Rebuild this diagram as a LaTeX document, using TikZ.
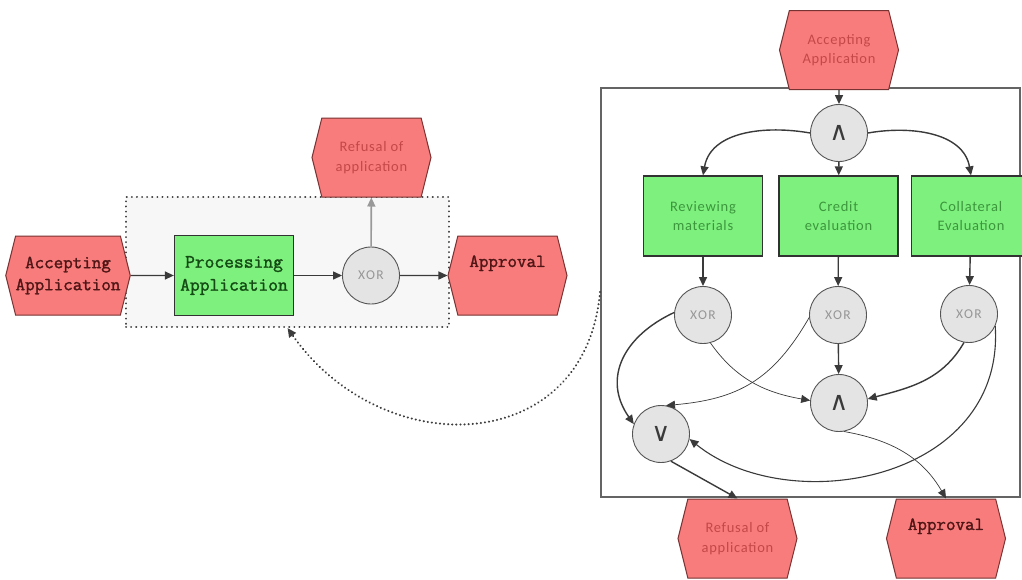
\documentclass[tikz,border=0pt]{standalone}
\usepackage{fontspec}
\setmainfont{Carlito}
\newfontfamily\codefont{Latin Modern Mono}[FakeBold=1.6]
\newfontfamily\labelfont{Carlito}[LetterSpace=5]
\newfontfamily\gatefont{Carlito}[LetterSpace=10]
\newfontfamily\symfont{DejaVu Sans}
\usetikzlibrary{arrows.meta,shapes.symbols}

\definecolor{evfill}{RGB}{248,124,124}
\definecolor{evline}{RGB}{120,50,50}
\definecolor{evtext}{RGB}{80,22,22}
\definecolor{evsoft}{RGB}{196,72,72}
\definecolor{fnfill}{RGB}{126,240,126}
\definecolor{fnline}{RGB}{50,50,50}
\definecolor{fntext}{RGB}{20,75,20}
\definecolor{fnsoft}{RGB}{60,150,60}
\definecolor{gatefill}{RGB}{228,228,228}
\definecolor{gateline}{RGB}{85,85,85}
\definecolor{gatetext}{RGB}{150,150,150}
\definecolor{flowc}{RGB}{58,58,58}
\definecolor{scopefill}{RGB}{247,247,247}
\definecolor{scopeline}{RGB}{60,60,60}
\definecolor{framec}{RGB}{100,100,100}

\tikzset{
  x=1pt, y=-1pt,
  event/.style={shape=signal, signal to=east and west, signal pointer angle=152,
    fill=evfill, draw=evline, line width=1pt, minimum width=119pt,
    minimum height=79pt, inner sep=0pt, align=center},
  evbig/.style={event, text=evtext, font=\codefont\fontsize{18.5}{22}\selectfont},
  evsmall/.style={event, text=evsoft, font=\labelfont\fontsize{14.5}{19.5}\selectfont},
  func/.style={rectangle, fill=fnfill, draw=fnline, line width=1.3pt,
    minimum width=119pt, minimum height=80pt, inner sep=0pt, align=center},
  fnbig/.style={func, text=fntext, font=\codefont\fontsize{19}{23}\selectfont},
  fnsmall/.style={func, text=fnsoft, font=\labelfont\fontsize{14.5}{19}\selectfont},
  gate/.style={circle, fill=gatefill, draw=gateline, line width=0.9pt,
    minimum size=57pt, inner sep=0pt},
  xorgate/.style={gate, text=gatetext, font=\gatefont\fontsize{13.5}{14}\selectfont},
  opgate/.style={gate, text=flowc, font=\symfont\fontsize{26}{26}\selectfont},
  flow/.style={draw=flowc, line width=1.4pt, -{Triangle[length=9pt,width=8pt]}},
  thinflow/.style={flow, line width=0.7pt},
  loopflow/.style={draw=scopeline, line width=2.2pt, line cap=round,
    dash pattern=on 0.1pt off 4pt, -{Triangle[length=9pt,width=8pt]}},
}

\begin{document}
\begin{tikzpicture}
\clip (0,0) rectangle (1022,579);
\fill[white] (0,0) rectangle (1022,579);

% ---------- overview process ----------
\node[fill=scopefill, draw=scopeline, line width=2pt, line cap=round,
      dash pattern=on 0.1pt off 5pt,
      minimum width=323pt, minimum height=130pt, inner sep=0pt] (scope) at (287.5,262) {};

\node[evbig] (accL) at (68,275.5) {Accepting\\Application};
\node[fnbig] (procL) at (234,275.5) {Processing\\Application};
\node[xorgate] (xorL) at (371,275.5) {XOR};
\node[evbig] (apprL) at (507.5,275.5) {Approval\\\strut};
\node[evsmall] (refL) at (371.5,157.5) {Refusal of\\application};

\draw[flow] (accL) -- (procL);
\draw[flow] (procL) -- (xorL);
\draw[flow] (xorL) -- (apprL);
\draw[flow, draw=gray!80, line width=1.6pt] (xorL) -- (refL);

% ---------- detailed process ----------
\node[draw=framec, line width=1.5pt, minimum width=419pt, minimum height=409pt,
      inner sep=0pt] (frame) at (810.5,292.5) {};

\node[evsmall] (accR) at (839,50) {Accepting\\Application};
\node[opgate] (andT) at (839,133) {∧};

\node[fnsmall] (revw) at (703,216) {Reviewing\\materials};
\node[fnsmall] (cred) at (838.5,216) {Credit\\evaluation};
\node[fnsmall] (coll) at (971,216) {Collateral\\Evaluation};

\node[xorgate] (xor1) at (703,315) {XOR};
\node[xorgate] (xor2) at (838,315) {XOR};
\node[xorgate] (xor3) at (969,314) {XOR};

\node[opgate] (andB) at (839,403) {∧};
\node[opgate] (orB) at (661,434) {∨};

\node[evsmall] (refR) at (737.5,538.5) {Refusal of\\application};
\node[evbig] (apprR) at (946,538.5) {Approval\\\strut};

\draw[flow] (accR) -- (andT);
\draw[flow] (andT.west) to[out=170, in=80] (revw.north);
\draw[flow] (andT) -- (cred);
\draw[flow] (andT.east) to[out=10, in=100] (coll.north);

\draw[flow] (revw) -- (xor1);
\draw[flow] (cred) -- (xor2);
\draw[flow] (coll) -- (xor3);

\draw[flow] (xor1.175) to[out=205, in=125, looseness=1.2] (orB.160);
\draw[thinflow] (xor1.-75) to[out=-55, in=170] (andB.175);
\draw[thinflow] (xor2.185) to[out=240, in=5, looseness=1.1] (orB.80);
\draw[flow] (xor2) -- (andB);
\draw[flow] (xor3.-100) to[out=-120, in=15] (andB.8);
\draw[flow, line width=1.1pt] (xor3.-25) .. controls (1005,480) and (790,520) .. (orB.-10);
\draw[flow] (orB.-70) -- (refR.north);
\draw[thinflow] (andB.-80) to[out=-10, in=120] (apprR.north);

% ---------- refinement link ----------
\coordinate (loopstart) at (600,292);
\draw[loopflow] (loopstart) to[out=-95, in=-55, looseness=1.35] (scope.south);
\end{tikzpicture}
\end{document}
